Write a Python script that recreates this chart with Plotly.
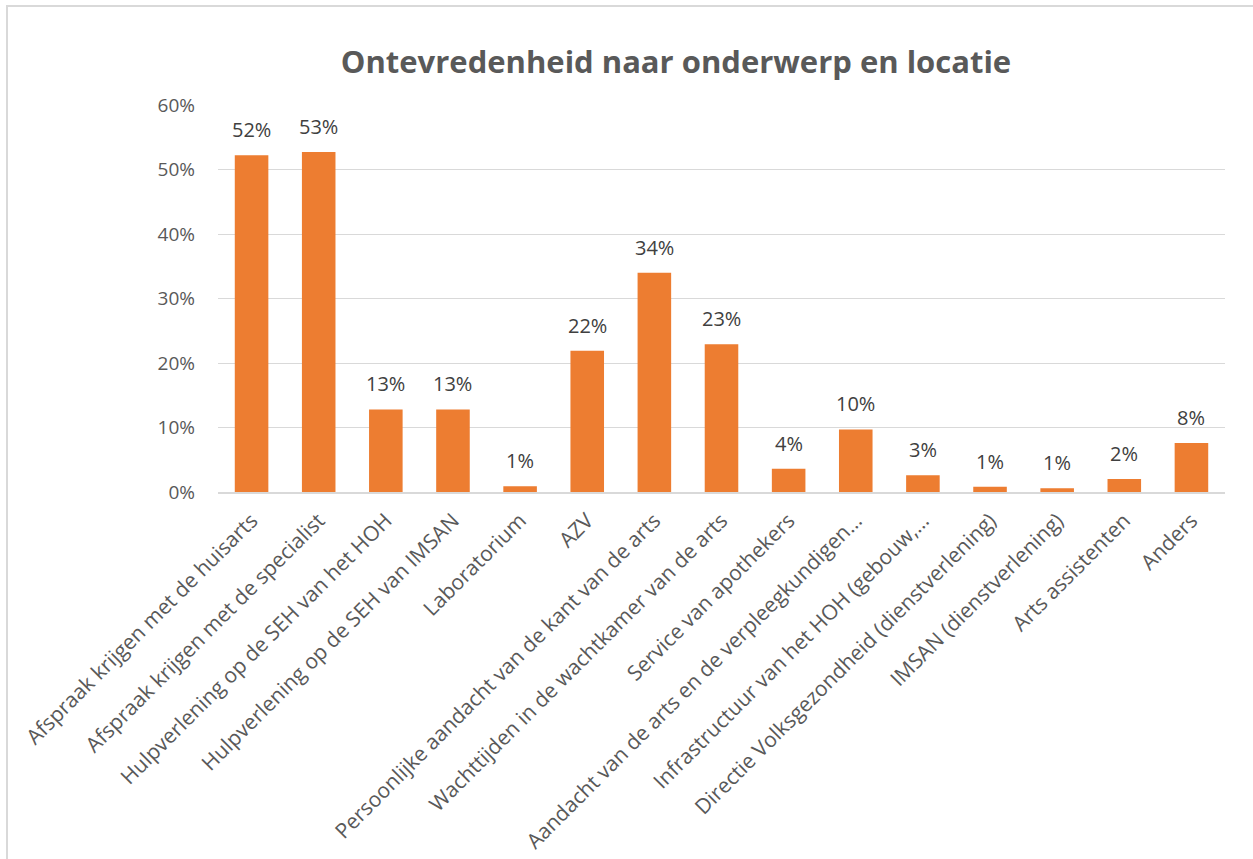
import plotly.graph_objects as go

# Categories (long labels shortened the way the axis shows them)
categories = [
    "Afspraak krijgen met de huisarts",
    "Afspraak krijgen met de specialist",
    "Hulpverlening op de SEH van het HOH",
    "Hulpverlening op de SEH van IMSAN",
    "Laboratorium",
    "AZV",
    "Persoonlijke aandacht van de kant van de arts",
    "Wachttijden in de wachtkamer van de arts",
    "Service van apothekers",
    "Aandacht van de arts en de verpleegkundigen…",
    "Infrastructuur van het HOH (gebouw,…",
    "Directie Volksgezondheid (dienstverlening)",
    "IMSAN (dienstverlening)",
    "Arts assistenten",
    "Anders",
]

# Share of dissatisfied respondents per topic (fraction)
values = [0.522, 0.527, 0.128, 0.128, 0.009, 0.219, 0.340, 0.229,
          0.036, 0.097, 0.026, 0.008, 0.006, 0.020, 0.076]

y_ticks = [0, 0.1, 0.2, 0.3, 0.4, 0.5, 0.6]

FONT = "Open Sans"
BAR = "#ED7D31"

fig = go.Figure()

fig.add_trace(go.Bar(
    x=categories,
    y=values,
    marker=dict(color=BAR, line=dict(width=0)),
    width=0.5,
    hovertemplate="%{x}: %{y:.0%}<extra></extra>",
))

# Value labels floating above each bar
for cat, val in zip(categories, values):
    fig.add_annotation(
        x=cat, y=val, xref="x", yref="y",
        text=f"{val:.0%}",
        showarrow=False,
        yanchor="bottom",
        yshift=10,
        font=dict(family=FONT, size=20, color="#404040"),
    )

fig.update_layout(
    width=1253,
    height=859,
    paper_bgcolor="white",
    plot_bgcolor="white",
    margin=dict(l=218, r=28, t=105, b=367),
    showlegend=False,
    title=dict(
        text="<b>Ontevredenheid naar onderwerp en locatie</b>",
        x=676 / 1253, xanchor="center",
        y=1 - 62 / 859, yanchor="middle",
        font=dict(family=FONT, size=31, color="#595959"),
    ),
    xaxis=dict(
        tickangle=-45,
        tickfont=dict(family=FONT, size=21, color="#595959"),
        showgrid=False,
        showline=True,
        linecolor="#D9D9D9",
        linewidth=2,
        ticks="",
        ticklabelstandoff=6,
        automargin=False,
    ),
    yaxis=dict(
        range=[0, 0.6],
        tickvals=y_ticks,
        tickformat=".0%",
        tickfont=dict(family=FONT, size=19, color="#595959"),
        showgrid=True,
        gridcolor="#D9D9D9",
        gridwidth=1.3,
        zeroline=False,
        showline=False,
        ticks="",
        ticklabelstandoff=22,
        automargin=False,
    ),
    shapes=[
        dict(
            type="rect", xref="paper", yref="paper",
            x0=-211 / 1007, x1=1 + 60 / 1007,
            y0=-380 / 387, y1=1 + 99 / 387,
            line=dict(color="#D9D9D9", width=2),
            fillcolor="rgba(0,0,0,0)",
            layer="below",
        )
    ],
)

fig.write_html("out.html")
